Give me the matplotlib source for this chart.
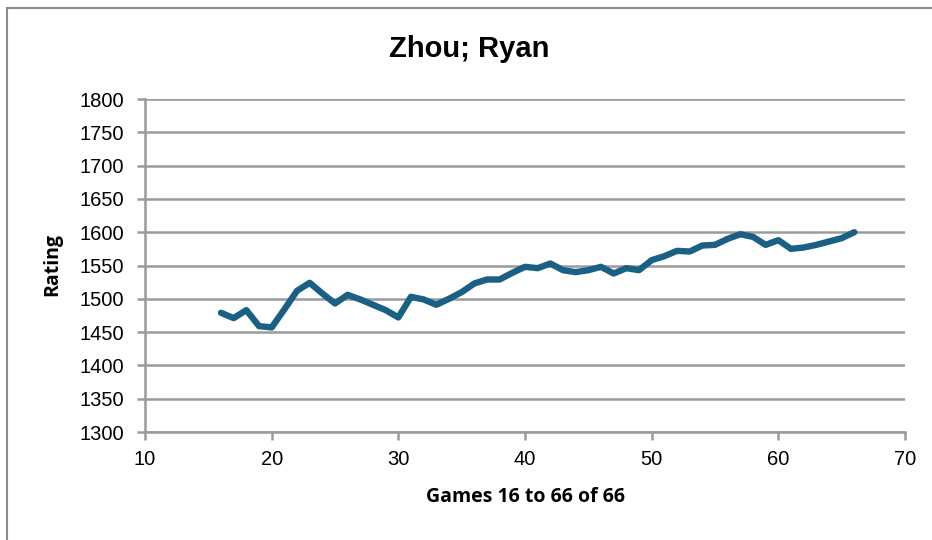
#!/usr/bin/env python3
"""
Rating history for Zhou; Ryan (games 16 to 66)
"""
import matplotlib.pyplot as plt
from matplotlib.patches import Rectangle

# game numbers and ratings after each game
games = list(range(16, 67))
ratings = [1479, 1471, 1483, 1459, 1457, 1484, 1512, 1524, 1508, 1493,
           1506, 1499, 1491, 1483, 1472, 1503, 1499, 1491, 1500, 1510,
           1523, 1529, 1529, 1539, 1548, 1546, 1553, 1543, 1540, 1543,
           1548, 1538, 1546, 1543, 1558, 1564, 1572, 1571, 1580, 1581,
           1590, 1597, 1593, 1581, 1588, 1575, 1577, 1581, 1586, 1591,
           1600]

x_ticks = [10, 20, 30, 40, 50, 60, 70]
y_ticks = list(range(1300, 1801, 50))

LINE = '#1A6085'
GRID = '#9A9A9A'

fig = plt.figure(figsize=(9.32, 5.4), dpi=100)
fig.patch.set_facecolor('white')

# chart frame
fig.patches.append(Rectangle((7 / 932, -0.1), 1.1, 1 - 8 / 540 + 0.1,
                             transform=fig.transFigure, fill=False,
                             edgecolor='#8C8C8C', linewidth=1.5))

ax = fig.add_axes([145 / 932, 1 - 432 / 540, 760 / 932, 333 / 540])
ax.plot(games, ratings, color=LINE, linewidth=4.6, solid_capstyle='round',
        solid_joinstyle='round', zorder=3)

ax.set_xlim(10, 70)
ax.set_ylim(1300, 1800)
ax.set_xticks(x_ticks)
ax.set_yticks(y_ticks)
ax.yaxis.grid(True, color=GRID, linewidth=1.8)
ax.set_axisbelow(True)

for side in ['top', 'right']:
    ax.spines[side].set_visible(False)
for side in ['left', 'bottom']:
    ax.spines[side].set_color(GRID)
    ax.spines[side].set_linewidth(1.8)
ax.tick_params(colors=GRID, length=6, width=1.8, labelcolor='black',
               labelsize=14.5)
ax.tick_params(axis='y', pad=9)
ax.tick_params(axis='x', pad=7)
for lbl in ax.get_xticklabels() + ax.get_yticklabels():
    lbl.set_family(['Liberation Sans', 'DejaVu Sans'])

fig.text(469 / 932, 1 - 49 / 540, 'Zhou; Ryan', ha='center', va='center',
         fontsize=21, fontweight='bold',
         family=['Liberation Sans Narrow', 'Liberation Sans', 'DejaVu Sans'])
fig.text(525 / 932, 1 - 497 / 540, 'Games 16 to 66 of 66', ha='center',
         va='center', fontsize=14, fontweight='bold',
         family=['Open Sans', 'DejaVu Sans'])
fig.text(52 / 932, 1 - 265 / 540, 'Rating', ha='center', va='center',
         rotation=90, fontsize=14, fontweight='bold',
         family=['Open Sans', 'DejaVu Sans'])

fig.savefig('out.png', dpi=100, facecolor='white')
